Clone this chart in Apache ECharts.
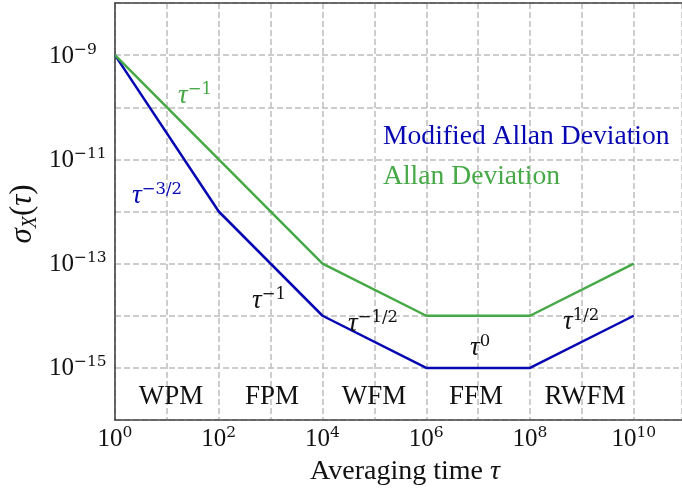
<!DOCTYPE html>
<html><head><meta charset="utf-8">
<script src="https://cdn.jsdelivr.net/npm/echarts@6/dist/echarts.min.js"></script>
<style>html,body{margin:0;padding:0;background:#fff}#c{width:682px;height:493px}</style>
</head><body><div id="c"></div>
<script>
// ---- data ----
const tauMod = [1, 1e2, 1e4, 1e6, 1e8, 1e10];
const modAdev = [1e-9, 1e-12, 1e-14, 1e-15, 1e-15, 1e-14];
const tauAdev = [1, 1e4, 1e6, 1e8, 1e10];
const adev = [1e-9, 1e-13, 1e-14, 1e-14, 1e-13];
const regionNames = ['WPM', 'FPM', 'WFM', 'FFM', 'RWFM'];
const seriesNames = ['Modified Allan Deviation', 'Allan Deviation'];
const slopeLabels = ['\u22121', '\u22123/2', '\u22121', '\u22121/2', '0', '1/2'];

const FONT = '"Liberation Serif", "DejaVu Serif", serif';
const SUPFONT = '"DejaVu Serif", "Liberation Serif", serif';
const BLUE = '#0606b2';
const GREEN = '#46a846';
const INK = '#111';
const MINUS = '\u2212';

function expOf(v) {
  const l = Math.log10(v);
  const e = Math.round(l);
  return Math.abs(l - e) < 1e-6 ? e : null;
}
function powLabel(e) {
  return '{b|10}{s|' + (e < 0 ? MINUS + (-e) : e) + '}';
}
const powRich = {
  b: {fontFamily: FONT, fontSize: 25, color: INK, lineHeight: 27, verticalAlign: 'bottom'},
  s: {fontFamily: SUPFONT, fontSize: 15.5, color: INK, lineHeight: 16, verticalAlign: 'top'}
};
function tauText(sup, color, x, y) {
  return {
    type: 'text', left: x, top: y - 14, z: 100,
    style: {text: '{t|\u03c4}{s|' + sup + '}', rich: {
      t: {fontFamily: FONT, fontSize: 27, fontStyle: 'italic', fill: color, lineHeight: 28, verticalAlign: 'bottom'},
      s: {fontFamily: SUPFONT, fontSize: 16.5, fill: color, lineHeight: 17, verticalAlign: 'top'}
    }}
  };
}
function plainText(txt, color, x, y, align, size) {
  return {
    type: 'text', z: 100, x: x, y: y,
    style: {text: txt, fill: color, fontFamily: FONT, fontSize: size || 27,
      align: align || 'left', verticalAlign: 'middle'}
  };
}

const chart = echarts.init(document.getElementById('c'));
const gridLine = {show: true, lineStyle: {color: '#bdbdbd', width: 1.5, type: [6, 3]}};
const axisLine = {show: true, lineStyle: {color: '#444', width: 1.6}};

const graphics = [
  tauText(slopeLabels[0], GREEN, 178, 95),
  tauText(slopeLabels[1], BLUE, 132, 195),
  tauText(slopeLabels[2], INK, 252, 300),
  tauText(slopeLabels[3], INK, 348, 323),
  tauText(slopeLabels[4], INK, 470, 347),
  tauText(slopeLabels[5], INK, 563, 321),
  plainText(seriesNames[0], BLUE, 383, 137, 'left', 27.6),
  plainText(seriesNames[1], GREEN, 383, 177, 'left', 27.6),
  plainText(regionNames[0], INK, 171, 397, 'center'),
  plainText(regionNames[1], INK, 272, 397, 'center'),
  plainText(regionNames[2], INK, 374, 397, 'center'),
  plainText(regionNames[3], INK, 476, 397, 'center'),
  plainText(regionNames[4], INK, 585, 397, 'center'),
  {
    type: 'text', z: 100, x: 405, y: 472,
    style: {text: '{a|Averaging time }{t|\u03c4}', align: 'center', verticalAlign: 'middle',
      rich: {a: {fontFamily: FONT, fontSize: 28, fill: INK},
             t: {fontFamily: FONT, fontSize: 28, fontStyle: 'italic', fill: INK}}}
  },
  {
    type: 'text', z: 100, x: 24, y: 214, rotation: Math.PI / 2,
    style: {text: '{s|\u03c3}{x|X}{p|(}{s|\u03c4}{p|)}', align: 'center', verticalAlign: 'middle',
      rich: {s: {fontFamily: FONT, fontSize: 31, fontStyle: 'italic', fill: INK, lineHeight: 34, verticalAlign: 'top'},
             x: {fontFamily: FONT, fontSize: 20, fontStyle: 'italic', fill: INK, lineHeight: 20, verticalAlign: 'bottom'},
             p: {fontFamily: FONT, fontSize: 31, fill: INK, lineHeight: 34, verticalAlign: 'top'}}}
  }
];

chart.setOption({
  animation: false,
  backgroundColor: '#fff',
  grid: {left: 115, top: 3, right: -4, bottom: 73},
  xAxis: [{
    type: 'log', logBase: 10, min: 1, max: Math.pow(10, 10.93), interval: 1,
    axisLine: axisLine, axisTick: {show: false}, splitLine: gridLine,
    axisLabel: {margin: 5, showMaxLabel: false,
      formatter: function (v) { const e = expOf(v); return (e !== null && e % 2 === 0) ? powLabel(e) : ''; },
      rich: powRich}
  }, {
    type: 'log', logBase: 10, min: 1, max: Math.pow(10, 10.93), position: 'top',
    axisLine: axisLine, axisTick: {show: false}, splitLine: {show: false}, axisLabel: {show: false}
  }],
  yAxis: {
    type: 'log', logBase: 10, min: 1e-16, max: 1e-8, interval: 1,
    axisLine: axisLine, axisTick: {show: false}, splitLine: gridLine,
    axisLabel: {margin: 66, align: 'left', showMaxLabel: false,
      formatter: function (v) { const e = expOf(v); return (e !== null && Math.abs(e) % 2 === 1) ? powLabel(e) : ''; },
      rich: powRich}
  },
  series: [
    {type: 'line', name: seriesNames[0], data: tauMod.map((t, i) => [t, modAdev[i]]),
     showSymbol: false, lineStyle: {color: BLUE, width: 2.5}, itemStyle: {color: BLUE}, z: 3},
    {type: 'line', name: seriesNames[1], data: tauAdev.map((t, i) => [t, adev[i]]),
     showSymbol: false, lineStyle: {color: GREEN, width: 2.5}, itemStyle: {color: GREEN}, z: 4}
  ],
  graphic: graphics
});
</script></body></html>
